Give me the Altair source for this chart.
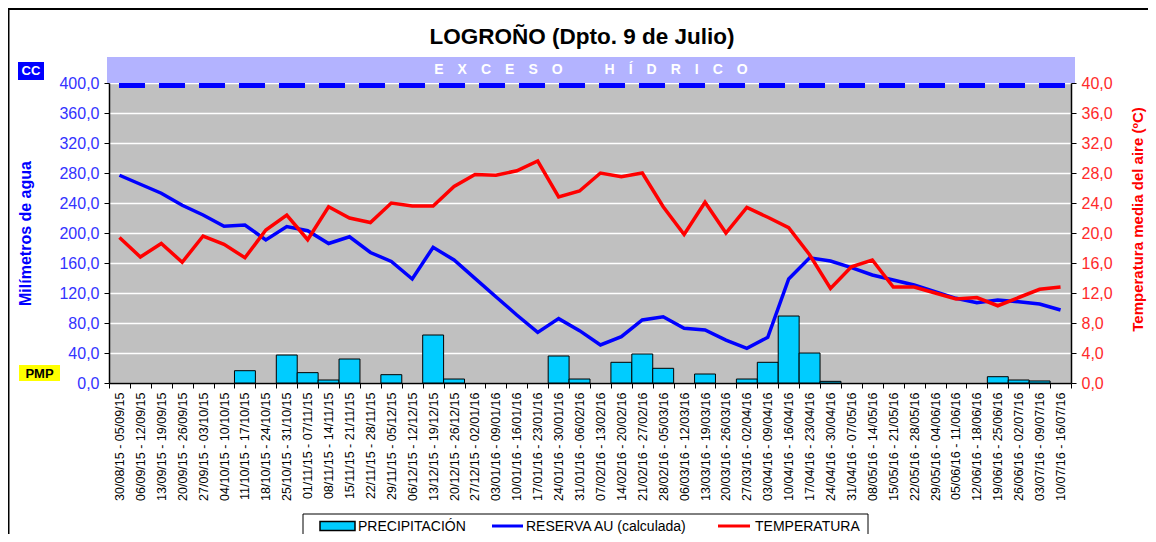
import altair as alt
import pandas as pd

periods = [
    "30/08/15 - 05/09/15", "06/09/15 - 12/09/15", "13/09/15 - 19/09/15", "20/09/15 - 26/09/15",
    "27/09/15 - 03/10/15", "04/10/15 - 10/10/15", "11/10/15 - 17/10/15", "18/10/15 - 24/10/15",
    "25/10/15 - 31/10/15", "01/11/15 - 07/11/15", "08/11/15 - 14/11/15", "15/11/15 - 21/11/15",
    "22/11/15 - 28/11/15", "29/11/15 - 05/12/15", "06/12/15 - 12/12/15", "13/12/15 - 19/12/15",
    "20/12/15 - 26/12/15", "27/12/15 - 02/01/16", "03/01/16 - 09/01/16", "10/01/16 - 16/01/16",
    "17/01/16 - 23/01/16", "24/01/16 - 30/01/16", "31/01/16 - 06/02/16", "07/02/16 - 13/02/16",
    "14/02/16 - 20/02/16", "21/02/16 - 27/02/16", "28/02/16 - 05/03/16", "06/03/16 - 12/03/16",
    "13/03/16 - 19/03/16", "20/03/16 - 26/03/16", "27/03/16 - 02/04/16", "03/04/16 - 09/04/16",
    "10/04/16 - 16/04/16", "17/04/16 - 23/04/16", "24/04/16 - 30/04/16", "31/04/16 - 07/05/16",
    "08/05/16 - 14/05/16", "15/05/16 - 21/05/16", "22/05/16 - 28/05/16", "29/05/16 - 04/06/16",
    "05/06/16 - 11/06/16", "12/06/16 - 18/06/16", "19/06/16 - 25/06/16", "26/06/16 - 02/07/16",
    "03/07/16 - 09/07/16", "10/07/16 - 16/07/16",
]

precipitacion = [0, 0, 0, 0, 0, 0, 16.4, 0, 37.3, 13.8, 4.0, 32.0, 0, 11.1, 0, 64.0,
                 5.3, 0, 0, 0, 0, 36.0, 5.3, 0, 27.6, 38.7, 19.6, 0, 12.0, 0, 5.3, 27.6,
                 89.3, 40.0, 2.2, 0, 0, 0, 0, 0, 0, 0, 8.4, 4.0, 2.7, 0]

reserva = [277, 265, 253, 237, 224, 209, 210.7, 190.7, 208.5, 203, 186, 195, 174, 162,
           138.7, 181, 164, 139.5, 115, 90.7, 67.5, 85.8, 69.8, 50.7, 61.8, 84, 88.4, 72.9,
           70.7, 57.3, 46.2, 60.9, 138.7, 167, 162.7, 153.8, 144, 137.3, 130.7, 121.8,
           112.9, 107, 110.7, 108.4, 105.3, 97.3]

temperatura = [19.4, 16.8, 18.6, 16.1, 19.6, 18.5, 16.7, 20.4, 22.4, 19.1, 23.5, 22.0,
               21.4, 24.0, 23.6, 23.6, 26.2, 27.8, 27.7, 28.3, 29.6, 24.8, 25.6, 28.0,
               27.5, 28.0, 23.5, 19.8, 24.1, 20.0, 23.4, 22.1, 20.7, 17.1, 12.6, 15.5,
               16.4, 12.8, 12.8, 12.0, 11.2, 11.4, 10.3, 11.4, 12.5, 12.8]

left_ticks = [0, 40, 80, 120, 160, 200, 240, 280, 320, 360, 400]
right_ticks = [0, 4, 8, 12, 16, 20, 24, 28, 32, 36, 40]

df = pd.DataFrame({"periodo": periods, "precip": precipitacion,
                   "reserva": reserva, "temp": temperatura})
one = pd.DataFrame({"k": [0]})

W, H = 962, 300
FONT = "Liberation Sans"
num_expr = "replace(format(datum.value, '.1f'), '.', ',')"

x_enc = alt.X(
    "periodo:N",
    sort=periods,
    scale=alt.Scale(domain=periods, paddingInner=0, paddingOuter=0),
    axis=alt.Axis(title=None, labelAngle=-90, labelFontSize=12.5, labelColor="black",
                  labelOverlap=False, labelLimit=0, labelPadding=4, labelFont=FONT,
                  tickBand="extent", tickColor="black", tickSize=5, tickWidth=1,
                  domainColor="black", domainWidth=1.5),
)

y_left_scale = alt.Scale(domain=[0, 400], nice=False, zero=True)
y_left_axis = alt.Axis(
    values=left_ticks, labelExpr=num_expr, labelColor="#3333FF", labelFontSize=16,
    labelFont=FONT, labelPadding=5,
    title="Milímetros de agua", titleColor="#0000FF", titleFontSize=16,
    titleFontWeight="bold", titleFont=FONT, titleAngle=-90, titleX=-84, titleY=150,
    titleAlign="center", titleBaseline="middle",
    grid=True, gridColor="white", gridWidth=1.5, tickColor="black", tickSize=5,
    domainColor="black", domainWidth=1.5,
)

base = alt.Chart(df)

bars = base.transform_filter("datum.precip > 0").mark_bar(
    color="#00CCFF", stroke="black", strokeWidth=1
).encode(x=x_enc, y=alt.Y("precip:Q", scale=y_left_scale, axis=y_left_axis))

reserve_line = base.mark_line(color="#0000FF", strokeWidth=3.5).encode(
    x=x_enc, y=alt.Y("reserva:Q", scale=y_left_scale, axis=y_left_axis))

dash = alt.Chart(one).mark_rule(color="#0000FF", strokeWidth=5, strokeDash=[26, 14]).encode(
    x=alt.value(10), x2=alt.value(W), y=alt.value(2.5))


def rect(x1, x2, y1, y2, **kw):
    return alt.Chart(one).mark_rect(**kw).encode(
        x=alt.value(x1), x2=alt.value(x2), y=alt.value(y1), y2=alt.value(y2))


def text(t, x, y, **kw):
    kw.setdefault("font", FONT)
    return alt.Chart(one).mark_text(text=t, **kw).encode(x=alt.value(x), y=alt.value(y))


def hline(x1, x2, y, color, width):
    return alt.Chart(one).mark_rule(color=color, strokeWidth=width).encode(
        x=alt.value(x1), x2=alt.value(x2), y=alt.value(y))


decor = [
    # outer frame
    rect(-101, W + 77, -75, -73, color="black"),
    rect(-101, -99.5, -75, H + 151, color="black"),
    # title
    text("LOGROÑO (Dpto. 9 de Julio)", 473, -46, fontSize=22.5, fontWeight="bold",
         color="black", align="center", baseline="middle"),
    # exceso hidrico band
    rect(-2, W + 4, -26, 0, color="#B3B3FF"),
    text("E\u2003X\u2003C\u2003E\u2003S\u2003O\u2003\u2003\u2003H\u2003Í\u2003D\u2003R\u2003I\u2003C\u2003O",
         482, -13, fontSize=14, fontWeight="bold", color="white", align="center", baseline="middle"),
    # CC box
    rect(-91, -65, -21, -3, color="#0000FF"),
    text("CC", -78, -12, fontSize=13, fontWeight="bold", color="white", align="center", baseline="middle"),
    # PMP box
    rect(-90, -49, 282, 298, color="#FFFF00"),
    text("PMP", -69.5, 290.5, fontSize=13, fontWeight="bold", color="black", align="center", baseline="middle"),
    # legend
    rect(194, 759, 431, 455, fill="white", stroke="black", strokeWidth=1),
    rect(211, 246, 438.5, 447.5, fill="#00CCFF", stroke="black", strokeWidth=1.5),
    text("PRECIPITACIÓN", 249, 443.5, fontSize=14, color="black", align="left", baseline="middle"),
    hline(383, 414, 443, "#0000FF", 3),
    text("RESERVA AU (calculada)", 417, 443.5, fontSize=14, color="black", align="left", baseline="middle"),
    hline(609, 641, 443, "#FF0000", 3),
    text("TEMPERATURA", 646, 443.5, fontSize=14, color="black", align="left", baseline="middle"),
]

left = alt.layer(bars, reserve_line, dash, *decor)

temp_line = base.mark_line(color="#FF0000", strokeWidth=3.5).encode(
    x=x_enc,
    y=alt.Y("temp:Q", scale=alt.Scale(domain=[0, 40], nice=False, zero=True),
            axis=alt.Axis(orient="right", values=right_ticks, labelExpr=num_expr,
                          labelColor="#FF2A2A", labelFontSize=16, labelFont=FONT, labelPadding=5,
                          title="Temperatura media del aire (ºC)", titleColor="#FF0000",
                          titleFontSize=15, titleFontWeight="bold", titleFont=FONT,
                          titleAngle=-90, titleX=66, titleY=136, titleAlign="center",
                          titleBaseline="middle", grid=False, tickColor="black", tickSize=5,
                          domainColor="black", domainWidth=1.5)),
)

chart = alt.layer(left, temp_line).resolve_scale(y="independent").properties(
    width=W, height=H,
    padding={"left": 101, "top": 75, "right": 77, "bottom": 151},
    autosize=alt.AutoSizeParams(type="none"),
    background="white",
).configure(font=FONT).configure_view(fill="#C0C0C0", strokeWidth=0)

chart.save("out.html", embed_options={"renderer": "svg", "actions": False})
